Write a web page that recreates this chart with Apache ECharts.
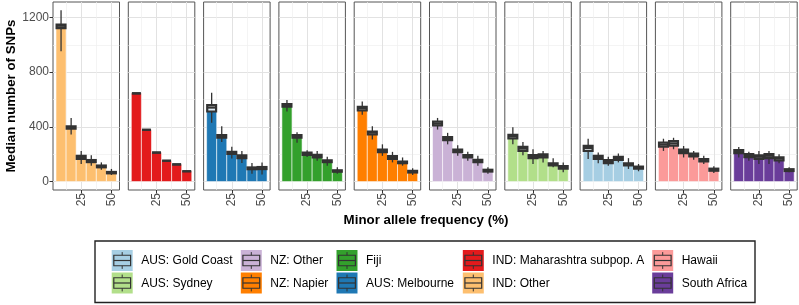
<!DOCTYPE html>
<html><head><meta charset="utf-8">
<script src="https://cdn.jsdelivr.net/npm/echarts@6/dist/echarts.min.js"></script>
<style>html,body{margin:0;padding:0;background:#fff}#c{width:799px;height:305px}</style>
</head><body><div id="c"></div>
<script>
// ---------- data ----------
const panels = ['IND: Other','IND: Maharashtra subpop. A','AUS: Melbourne','Fiji','NZ: Napier','NZ: Other','AUS: Sydney','AUS: Gold Coast','Hawaii','South Africa'];
const panelColors = ['#FDBF6F','#E31A1C','#1F78B4','#33A02C','#FF7F00','#CAB2D6','#B2DF8A','#A6CEE3','#FB9A99','#6A3D9A'];
const mafBins = [8.33, 16.67, 25, 33.33, 41.67, 50];
const xTicks = [25, 50];
const xMinor = [12.5, 37.5];
const yTicks = [0, 400, 800, 1200];
const yMinor = [200, 600, 1000];
const medians = [
  [1139, 397, 178, 149, 111, 65],
  [645, 378, 212, 152, 125, 75],
  [541, 330, 210, 181, 97, 99],
  [559, 330, 205, 186, 149, 77],
  [537, 357, 224, 176, 140, 72],
  [424, 313, 224, 183, 152, 80],
  [332, 241, 183, 188, 125, 104],
  [246, 176, 145, 171, 125, 101],
  [270, 279, 222, 193, 157, 87],
  [217, 193, 181, 188, 169, 84]
];
const q1s = [
  [1122, 387, 166, 142, 104, 60],
  [645, 378, 212, 152, 125, 75],
  [512, 320, 202, 171, 90, 91],
  [548, 320, 195, 176, 142, 72],
  [520, 344, 214, 166, 134, 66],
  [411, 303, 214, 176, 142, 73],
  [315, 224, 171, 176, 118, 94],
  [224, 166, 135, 159, 118, 94],
  [255, 263, 207, 183, 147, 79],
  [207, 178, 166, 171, 154, 77]
];
const q3s = [
  [1148, 404, 188, 157, 117, 70],
  [645, 378, 212, 152, 125, 75],
  [559, 340, 217, 191, 103, 106],
  [566, 340, 212, 195, 155, 82],
  [547, 366, 234, 186, 146, 78],
  [438, 325, 234, 193, 159, 86],
  [342, 253, 193, 198, 133, 113],
  [260, 188, 157, 181, 133, 109],
  [285, 296, 234, 205, 164, 94],
  [229, 200, 191, 200, 176, 90]
];
const whiskLow = [
  [953, 344, 128, 116, 86, 48],
  [645, 378, 212, 152, 125, 75],
  [429, 289, 169, 135, 56, 51],
  [513, 284, 180, 152, 116, 56],
  [489, 308, 188, 140, 116, 48],
  [380, 272, 188, 152, 116, 56],
  [272, 193, 128, 140, 104, 68],
  [164, 133, 116, 140, 92, 75],
  [224, 236, 176, 159, 128, 63],
  [176, 152, 128, 128, 133, 68]
];
const whiskHigh = [
  [1252, 465, 224, 193, 140, 92],
  [645, 378, 212, 152, 125, 75],
  [650, 404, 255, 224, 135, 140],
  [597, 361, 229, 224, 181, 104],
  [585, 404, 272, 217, 176, 97],
  [465, 356, 265, 217, 188, 104],
  [397, 289, 236, 224, 171, 140],
  [313, 212, 181, 205, 171, 128],
  [313, 320, 260, 224, 188, 111],
  [253, 217, 224, 224, 200, 104]
];
const legendOrder = ['AUS: Gold Coast','AUS: Sydney','NZ: Other','NZ: Napier','Fiji','AUS: Melbourne','IND: Maharashtra subpop. A','IND: Other','Hawaii','South Africa'];
const xTitle = 'Minor allele frequency (%)';
const yTitle = 'Median number of SNPs';

// ---------- layout ----------
const FONT = '"Liberation Sans", Arial, Helvetica, sans-serif';
const PL = 53, PSTEP = 75.3, PW = 66.5, PT = 2, PH = 188;
const XMIN = 1.67, XMAX = 56.67, YMIN = -62, YMAX = 1313;
const BIN = 50 / 6;
const DARK = '#333333';

const grids = [], xAxes = [], yAxes = [], series = [];
panels.forEach((name, i) => {
  grids.push({left: PL + PSTEP * i, top: PT, width: PW, height: PH, show: true,
    borderColor: '#555555', borderWidth: 1, backgroundColor: '#fff', containLabel: false, outerBoundsMode: 'none'});
  // minor x (gridlines only)
  xAxes.push({type: 'value', gridIndex: i, position: 'bottom', min: XMIN, max: XMAX,
    axisLine: {show: false, onZero: false}, axisTick: {show: false, customValues: xMinor},
    axisLabel: {show: false}, splitLine: {show: true, lineStyle: {color: '#efefef', width: 0.7}}});
  // major x
  xAxes.push({type: 'value', gridIndex: i, position: 'bottom', min: XMIN, max: XMAX,
    axisLine: {show: false, onZero: false},
    axisTick: {show: true, length: 3.5, lineStyle: {color: DARK, width: 1}, customValues: xTicks},
    axisLabel: {show: true, customValues: xTicks, rotate: 90, margin: 3, color: '#4d4d4d', fontSize: 12, fontFamily: FONT,
      formatter: v => String(v)},
    splitLine: {show: true, lineStyle: {color: '#e2e2e2', width: 1}}});
  // minor y
  yAxes.push({type: 'value', gridIndex: i, position: 'left', min: YMIN, max: YMAX,
    axisLine: {show: false, onZero: false}, axisTick: {show: false, customValues: yMinor},
    axisLabel: {show: false}, splitLine: {show: true, lineStyle: {color: '#efefef', width: 0.7}}});
  // major y
  const first = i === 0;
  yAxes.push(Object.assign({type: 'value', gridIndex: i, position: 'left', min: YMIN, max: YMAX,
    axisLine: {show: false, onZero: false},
    axisTick: {show: first, length: 3.5, lineStyle: {color: DARK, width: 1}, customValues: yTicks},
    axisLabel: {show: first, customValues: yTicks, margin: 4, color: '#4d4d4d', fontSize: 12, fontFamily: FONT,
      formatter: v => String(v)},
    splitLine: {show: true, lineStyle: {color: '#e2e2e2', width: 1}}},
    first ? {name: yTitle, nameLocation: 'middle', nameGap: 35,
      nameTextStyle: {fontWeight: 'bold', fontSize: 13.3, color: '#000', fontFamily: FONT}} : {}));

  const data = mafBins.map((x, k) => [x, medians[i][k], q1s[i][k], q3s[i][k], whiskLow[i][k], whiskHigh[i][k]]);
  const color = panelColors[i];
  // bars
  series.push({type: 'custom', name: name, xAxisIndex: 2 * i + 1, yAxisIndex: 2 * i + 1, z: 2,
    encode: {x: 0, y: [1, 2, 3, 4, 5]}, data: data, silent: true,
    renderItem: (params, api) => {
      const x = api.value(0), med = api.value(1);
      const a = api.coord([x - BIN / 2, 0]);
      const b = api.coord([x + BIN / 2, med]);
      return {type: 'rect', shape: {x: a[0], y: b[1], width: b[0] - a[0], height: a[1] - b[1]},
        style: {fill: color, stroke: 'rgba(255,255,255,0.7)', lineWidth: 0.8}};
    }});
  // boxplots
  series.push({type: 'custom', name: name + ' box', xAxisIndex: 2 * i + 1, yAxisIndex: 2 * i + 1, z: 3,
    encode: {x: 0, y: [1, 2, 3, 4, 5]}, data: data, silent: true,
    renderItem: (params, api) => {
      const x = api.value(0);
      const med = api.value(1), q1 = api.value(2), q3 = api.value(3), lo = api.value(4), hi = api.value(5);
      const hw = BIN * 0.44;
      const l = api.coord([x - hw, q3]), r = api.coord([x + hw, q1]);
      const c = api.coord([x, med]);
      const pl = api.coord([x, lo]), ph = api.coord([x, hi]);
      return {type: 'group', children: [
        {type: 'line', shape: {x1: c[0], y1: ph[1], x2: c[0], y2: l[1]}, style: {stroke: DARK, lineWidth: 1.3}},
        {type: 'line', shape: {x1: c[0], y1: r[1], x2: c[0], y2: pl[1]}, style: {stroke: DARK, lineWidth: 1.3}},
        {type: 'rect', shape: {x: l[0], y: l[1], width: r[0] - l[0], height: r[1] - l[1]},
          style: {fill: 'rgba(255,255,255,0.85)', stroke: DARK, lineWidth: 2.2}},
        {type: 'line', shape: {x1: l[0], y1: c[1], x2: r[0], y2: c[1]}, style: {stroke: DARK, lineWidth: 2.2}}
      ]};
    }});
});

// ---------- legend & x title (graphic) ----------
const LX = [111.7, 240.8, 336.5, 462.8, 652.2];
const LY = [250, 272.5];
const KS = 21;
const graphic = [
  {type: 'text', x: 426, y: 220,
    style: {text: xTitle, align: 'center', verticalAlign: 'middle',
      font: 'bold 13.3px ' + FONT, fill: '#000'}},
  {type: 'rect', shape: {x: 95, y: 241, width: 660, height: 61.5},
    style: {fill: '#fff', stroke: '#222', lineWidth: 1.4}}
];
legendOrder.forEach((name, j) => {
  const col = Math.floor(j / 2), row = j % 2;
  const x0 = LX[col], y0 = LY[row];
  const color = panelColors[panels.indexOf(name)];
  const bx0 = x0 + KS * 0.1, bx1 = x0 + KS * 0.9, cx = x0 + KS / 2;
  graphic.push({type: 'group', children: [
    {type: 'rect', shape: {x: x0, y: y0, width: KS, height: KS}, style: {fill: color}},
    {type: 'line', shape: {x1: cx, y1: y0 + KS * 0.1, x2: cx, y2: y0 + KS * 0.25}, style: {stroke: DARK, lineWidth: 1}},
    {type: 'line', shape: {x1: cx, y1: y0 + KS * 0.75, x2: cx, y2: y0 + KS * 0.9}, style: {stroke: DARK, lineWidth: 1}},
    {type: 'rect', shape: {x: bx0, y: y0 + KS * 0.25, width: bx1 - bx0, height: KS * 0.5}, style: {fill: 'none', stroke: DARK, lineWidth: 1.2}},
    {type: 'line', shape: {x1: bx0, y1: y0 + KS / 2, x2: bx1, y2: y0 + KS / 2}, style: {stroke: DARK, lineWidth: 1.2}},
    {type: 'text', x: x0 + 29.5, y: y0 + KS / 2 + 0.5,
      style: {text: name, align: 'left', verticalAlign: 'middle', font: '12px ' + FONT, fill: '#000'}}
  ]});
});

const chart = echarts.init(document.getElementById('c'), null, {renderer: 'canvas'});
chart.setOption({
  animation: false,
  backgroundColor: '#fff',
  grid: grids, xAxis: xAxes, yAxis: yAxes, series: series, graphic: graphic
});
</script></body></html>
